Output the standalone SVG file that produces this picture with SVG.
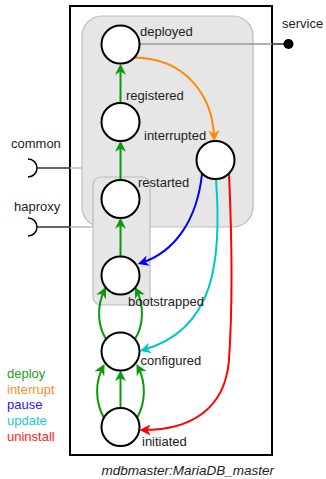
<svg xmlns="http://www.w3.org/2000/svg" width="326" height="479" viewBox="0 0 326 479">
<style>
text{font-family:"Liberation Sans",Arial,sans-serif;font-size:13px;fill:#222}
.st{fill:#fff;stroke:#000;stroke-width:2}
.c{fill:none;stroke-width:2}
.g{stroke:#0a9a0a}.o{stroke:#ff8a00}.b{stroke:#0000ff}.cy{stroke:#00c8c8}.r{stroke:#ff0000}
</style>
<defs>
<marker id="ag" viewBox="0 0 10 10" refX="7" refY="5" markerWidth="11" markerHeight="11" markerUnits="userSpaceOnUse" orient="auto"><path d="M0,0 L10,5 L0,10 L3,5z" fill="#0a9a0a"/></marker>
<marker id="ao" viewBox="0 0 10 10" refX="7" refY="5" markerWidth="11" markerHeight="11" markerUnits="userSpaceOnUse" orient="auto"><path d="M0,0 L10,5 L0,10 L3,5z" fill="#ff8a00"/></marker>
<marker id="ab" viewBox="0 0 10 10" refX="7" refY="5" markerWidth="11" markerHeight="11" markerUnits="userSpaceOnUse" orient="auto"><path d="M0,0 L10,5 L0,10 L3,5z" fill="#0000ff"/></marker>
<marker id="ac" viewBox="0 0 10 10" refX="7" refY="5" markerWidth="11" markerHeight="11" markerUnits="userSpaceOnUse" orient="auto"><path d="M0,0 L10,5 L0,10 L3,5z" fill="#00c8c8"/></marker>
<marker id="ar" viewBox="0 0 10 10" refX="7" refY="5" markerWidth="11" markerHeight="11" markerUnits="userSpaceOnUse" orient="auto"><path d="M0,0 L10,5 L0,10 L3,5z" fill="#ff0000"/></marker>
</defs>
<rect width="326" height="479" fill="#fff"/>
<g id="component">
<rect x="70" y="6" width="202" height="449" fill="#fff" stroke="#000" stroke-width="2"/>
<rect x="82" y="16" width="171" height="211" rx="20" fill="#e6e6e6" stroke="#bbb" stroke-width="1.2"/>
<rect x="93" y="177" width="57" height="128" rx="8" fill="#e6e6e6" stroke="#bbb" stroke-width="1.2"/>
<text x="101.5" y="475" font-style="italic" style="font-size:13.5px">mdbmaster:MariaDB_master</text>
</g>
<g id="ports">
<path d="M28,159 A9,9 0 0 1 28,177" fill="none" stroke="#000" stroke-width="1.5"/>
<line x1="37" y1="168" x2="70" y2="168" stroke="#333" stroke-width="1.5"/>
<line x1="70" y1="168" x2="82" y2="168" stroke="#bbb" stroke-width="1.5"/>
<text x="11" y="148">common</text>
<path d="M28,218 A9,9 0 0 1 28,236" fill="none" stroke="#000" stroke-width="1.5"/>
<line x1="37" y1="227" x2="70" y2="227" stroke="#333" stroke-width="1.5"/>
<line x1="70" y1="227" x2="93" y2="227" stroke="#bbb" stroke-width="1.5"/>
<text x="14" y="211">haproxy</text>
<line x1="139" y1="44" x2="272" y2="44" stroke="#999" stroke-width="1.5"/>
<line x1="272" y1="44" x2="288" y2="44" stroke="#333" stroke-width="1.5"/>
<circle cx="288.5" cy="44" r="5" fill="#000"/>
<text x="282" y="28">service</text>
</g>
<g id="connectors">
<path class="c g" d="M120.5,103 L120.5,67" marker-end="url(#ag)"/>
<path class="c g" d="M120.5,180 L120.5,144" marker-end="url(#ag)"/>
<path class="c g" d="M120.5,256.5 L120.5,221" marker-end="url(#ag)"/>
<path class="c g" d="M106,339 C97,325 97,305 104.5,290" marker-end="url(#ag)"/>
<path class="c g" d="M135,339 C144,325 144,305 136.5,290" marker-end="url(#ag)"/>
<path class="c g" d="M120.5,408 L120.5,373.5" marker-end="url(#ag)"/>
<path class="c g" d="M104,418 C95,402 95,382 103,367" marker-end="url(#ag)"/>
<path class="c g" d="M137,418 C146,402 146,382 138,367" marker-end="url(#ag)"/>
<path class="c o" d="M134,57.5 C185,58 213,95 214,138" marker-end="url(#ao)"/>
<path class="c b" d="M202,174 C197,220 175,252 141,263" marker-end="url(#ab)"/>
<path class="c cy" d="M216,179 C222,260 215,330 143,350" marker-end="url(#ac)"/>
<path class="c r" d="M229,174 C232,240 233,300 229,360 C225,410 190,430 143,430" marker-end="url(#ar)"/>
</g>
<g id="deployed"><circle class="st" cx="120.5" cy="44.5" r="19"/><text x="140" y="36">deployed</text></g>
<g id="registered"><circle class="st" cx="120.5" cy="122" r="19"/><text x="126" y="100">registered</text></g>
<g id="interrupted"><circle class="st" cx="215.5" cy="160" r="19"/><text x="144" y="140">interrupted</text></g>
<g id="restarted"><circle class="st" cx="120.5" cy="199" r="19"/><text x="138" y="187">restarted</text></g>
<g id="bootstrapped"><circle class="st" cx="120.5" cy="275.5" r="19"/><text x="128" y="306">bootstrapped</text></g>
<g id="configured"><circle class="st" cx="120.5" cy="351.5" r="19"/><text x="140.5" y="365">configured</text></g>
<g id="initiated"><circle class="st" cx="120.5" cy="427" r="19"/><text x="142" y="446">initiated</text></g>
<g id="legend">
<text x="7" y="378" style="fill:#22a022">deploy</text>
<text x="7" y="393.5" style="fill:#ff8c26">interrupt</text>
<text x="7" y="409" style="fill:#2222ff">pause</text>
<text x="7" y="425" style="fill:#22cccc">update</text>
<text x="7" y="441" style="fill:#ff2222">uninstall</text>
</g>
</svg>
